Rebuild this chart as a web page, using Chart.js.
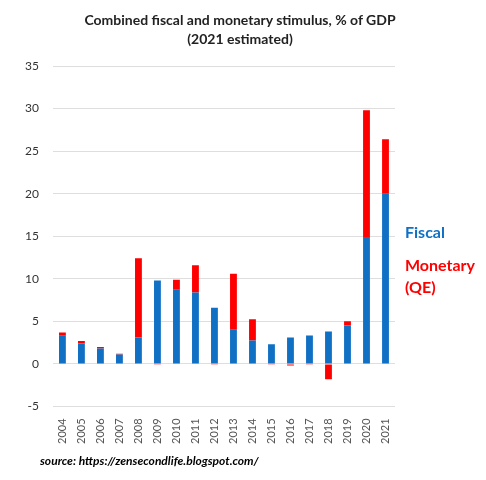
<!DOCTYPE html>
<html lang="en">
<head>
    <meta charset="UTF-8">
    <title>Combined fiscal and monetary stimulus</title>
    <script src="https://cdn.jsdelivr.net/npm/chart.js"></script>
    <style>
        html, body {
            margin: 0;
            padding: 0;
            background: #fff;
        }
        #wrap {
            position: relative;
            width: 486px;
            height: 480px;
        }
        #title {
            position: absolute;
            left: 0;
            top: 10px;
            width: 480px;
            text-align: center;
            font-family: Lato, sans-serif;
            font-weight: bold;
            font-size: 14px;
            line-height: 19px;
            color: #222;
        }
        .side {
            position: absolute;
            left: 405px;
            font-family: Lato, sans-serif;
            font-weight: bold;
            font-size: 16px;
            line-height: 22px;
        }
        #source {
            position: absolute;
            left: 40px;
            top: 453px;
            font-family: Lato, sans-serif;
            font-weight: bold;
            font-style: italic;
            font-size: 12px;
            color: #000;
        }
    </style>
</head>
<body>
    <div id="wrap">
        <canvas id="stimulusChart" width="486" height="480"></canvas>
        <div id="title">Combined fiscal and monetary stimulus, % of GDP<br>(2021 estimated)</div>
        <div class="side" style="top:221px; color:#1070c4;">Fiscal</div>
        <div class="side" style="top:254px; color:#ff0000;">Monetary<br>(QE)</div>
        <div id="source">source: https://zensecondlife.blogspot.com/</div>
    </div>

    <script>
        // Values (% of GDP)
        const years = ['2004', '2005', '2006', '2007', '2008', '2009', '2010', '2011', '2012',
                       '2013', '2014', '2015', '2016', '2017', '2018', '2019', '2020', '2021'];
        const fiscal = [3.3, 2.4, 1.8, 1.1, 3.1, 9.8, 8.7, 8.4, 6.6,
                        4.0, 2.75, 2.3, 3.1, 3.35, 3.8, 4.5, 14.9, 20.0];
        const monetary = [0.4, 0.3, 0.2, 0.1, 9.3, -0.1, 1.2, 3.2, -0.1,
                          6.6, 2.5, -0.1, -0.2, -0.1, -1.8, 0.5, 14.9, 6.4];
        const yTicks = [-5, 0, 5, 10, 15, 20, 25, 30, 35];

        const ctx = document.getElementById('stimulusChart');

        new Chart(ctx, {
            type: 'bar',
            data: {
                labels: years,
                datasets: [{
                    label: 'Fiscal',
                    data: fiscal,
                    backgroundColor: '#1070c4',
                    barPercentage: 0.45,
                    categoryPercentage: 0.8,
                }, {
                    label: 'Monetary (QE)',
                    data: monetary,
                    backgroundColor: '#ff0000',
                    barPercentage: 0.45,
                    categoryPercentage: 0.8,
                }]
            },
            options: {
                responsive: false,
                animation: false,
                layout: {
                    padding: { left: 11, right: 91, top: 66, bottom: 32 }
                },
                plugins: {
                    legend: { display: false },
                    tooltip: { enabled: false }
                },
                scales: {
                    x: {
                        stacked: true,
                        grid: { display: false },
                        border: { display: false },
                        ticks: {
                            minRotation: 90,
                            maxRotation: 90,
                            color: '#555',
                            padding: 4,
                            font: { family: 'Lato', size: 11 }
                        }
                    },
                    y: {
                        stacked: true,
                        min: yTicks[0],
                        max: yTicks[yTicks.length - 1],
                        border: { display: false },
                        grid: { color: '#dedede', drawTicks: false },
                        afterBuildTicks: axis => {
                            axis.ticks = yTicks.map(v => ({ value: v }));
                        },
                        ticks: {
                            color: '#333',
                            padding: 14,
                            font: { family: 'Lato', size: 12 }
                        }
                    }
                }
            }
        });
    </script>
</body>
</html>
